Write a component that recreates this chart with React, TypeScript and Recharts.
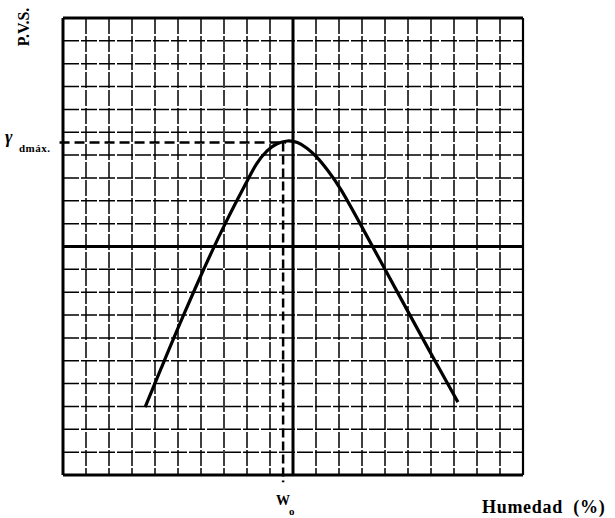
import { LineChart, Line, XAxis, YAxis, CartesianGrid, ReferenceLine } from "recharts"

// grid scale: 20 x 20 cells
const gridTicks = [0, 1, 2, 3, 4, 5, 6, 7, 8, 9, 10, 11, 12, 13, 14, 15, 16, 17, 18, 19, 20]

// compaction curve (humedad vs. peso volumétrico seco)
const humedad = [3.57, 4.3, 5.0, 5.8, 6.5, 7.0, 7.5, 8.0, 8.4, 8.9, 9.3, 9.75, 10.2, 10.6, 11.04, 11.5, 12.04, 13.0, 14.0, 15.0, 16.0, 17.17]
const pvs = [2.97, 4.75, 6.45, 8.3, 9.85, 10.9, 11.9, 12.85, 13.65, 14.25, 14.52, 14.65, 14.58, 14.32, 13.93, 13.35, 12.62, 10.85, 9.0, 7.15, 5.3, 3.19]

const wOptimo = 9.57
const gammaMax = 14.55

const curve = humedad.map((w, i) => ({ w, pvs: pvs[i] }))

const serif = "'Liberation Serif', 'DejaVu Serif', serif"

export default function App() {
  return (
    <div style={{ position: "absolute", left: 0, top: 0, width: 615, height: 518, background: "#fff", fontFamily: serif }}>
      <LineChart width={615} height={518} data={curve} margin={{ top: 18, right: 92, bottom: 43, left: 63 }}>
        <XAxis type="number" dataKey="w" domain={[0, 20]} ticks={gridTicks} interval={0} hide />
        <YAxis type="number" domain={[0, 20]} ticks={gridTicks} interval={0} hide />
        <CartesianGrid stroke="#000" strokeWidth={1.5} strokeDasharray="16 2" />
        <ReferenceLine x={0} stroke="#000" strokeWidth={3} />
        <ReferenceLine x={20} stroke="#000" strokeWidth={2.2} />
        <ReferenceLine y={0} stroke="#000" strokeWidth={3} />
        <ReferenceLine y={20} stroke="#000" strokeWidth={3} />
        <ReferenceLine x={10} stroke="#000" strokeWidth={3} />
        <ReferenceLine y={10} stroke="#000" strokeWidth={3} />
        <ReferenceLine
          segment={[{ x: -0.15, y: gammaMax }, { x: 9.7, y: gammaMax }]}
          stroke="#000"
          strokeWidth={2.5}
          strokeDasharray="10 5"
          ifOverflow="visible"
        />
        <ReferenceLine
          segment={[{ x: wOptimo, y: gammaMax }, { x: wOptimo, y: -0.32 }]}
          stroke="#000"
          strokeWidth={2.5}
          strokeDasharray="9 4"
          ifOverflow="visible"
        />
        <Line
          type="basis"
          dataKey="pvs"
          stroke="#000"
          strokeWidth={3.2}
          dot={false}
          isAnimationActive={false}
        />
      </LineChart>

      <div
        style={{
          position: "absolute",
          left: 24,
          top: 27,
          transform: "translate(-50%, -50%) rotate(-90deg)",
          fontSize: 16,
          fontWeight: "bold",
          whiteSpace: "nowrap",
        }}
      >
        P.V.S.
      </div>
      <div style={{ position: "absolute", left: 5, top: 127, fontSize: 18, fontWeight: "bold", fontStyle: "italic" }}>
        γ
      </div>
      <div style={{ position: "absolute", left: 19, top: 142, fontSize: 11, fontWeight: "bold", letterSpacing: 0.5 }}>
        dmáx.
      </div>
      <div style={{ position: "absolute", left: 276, top: 493, fontSize: 14, fontWeight: "bold" }}>
        W
      </div>
      <div style={{ position: "absolute", left: 289, top: 505, fontSize: 11, fontWeight: "bold" }}>
        o
      </div>
      <div
        style={{
          position: "absolute",
          left: 482,
          top: 497,
          fontSize: 18,
          fontWeight: "bold",
          letterSpacing: 0.7,
          whiteSpace: "nowrap",
        }}
      >
        Humedad&nbsp;&nbsp;(%)
      </div>
    </div>
  )
}
